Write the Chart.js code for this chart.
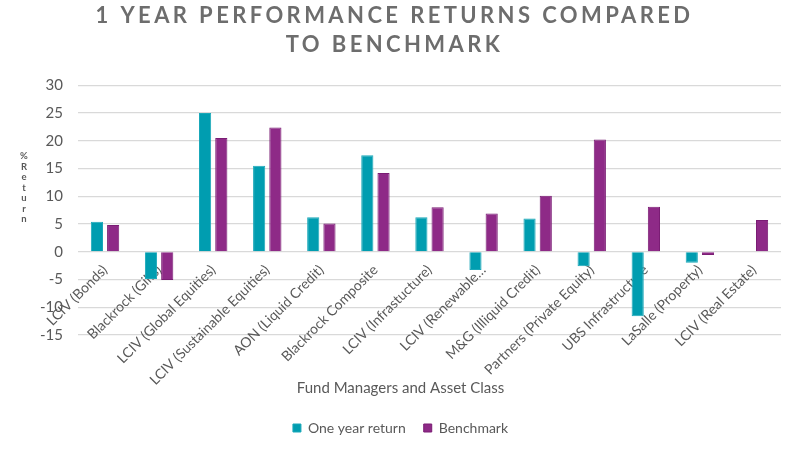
<!DOCTYPE html>
<html>
<head>
<meta charset="utf-8">
<script src="https://cdn.jsdelivr.net/npm/chart.js@4/dist/chart.umd.min.js"></script>
<style>
  html, body { margin: 0; padding: 0; background: #ffffff; }
  #wrap { width: 800px; height: 450px; position: relative; }
</style>
</head>
<body>
<div id="wrap"><canvas id="c"></canvas></div>
<script>
const categories = [
  'LCIV (Bonds)', 'Blackrock (Gilts)', 'LCIV (Global Equities)', 'LCIV (Sustainable Equities)',
  'AON (Liquid Credit)', 'Blackrock Composite', 'LCIV (Infrastucture)', 'LCIV (Renewable…',
  'M&G (Illiquid Credit)', 'Partners (Private Equity)', 'UBS Infrastructure', 'LaSalle (Property)',
  'LCIV (Real Estate)'
];
const oneYearReturn = [5.4, -4.9, 25.0, 15.5, 6.2, 17.4, 6.2, -3.3, 6.0, -2.6, -11.6, -2.0, 0];
const benchmark     = [4.8, -5.1, 20.5, 22.4, 5.1, 14.2, 8.0, 6.9, 10.1, 20.2, 8.1, -0.6, 5.7];
const yTicks = [-15, -10, -5, 0, 5, 10, 15, 20, 25, 30];
const seriesNames = ['One year return', 'Benchmark'];
const titleLines = ['1 YEAR PERFORMANCE RETURNS COMPARED', 'TO BENCHMARK'];
const xTitle = 'Fund Managers and Asset Class';
const yTitle = '% Return';

const GREY = '#595959';
const FONT = "Lato, 'Open Sans', sans-serif";

const spacedTitle = {
  id: 'spacedTitle',
  beforeDraw(chart) {
    const tb = chart.titleBlock;
    if (tb && !tb._wrapped) {
      const orig = tb.draw.bind(tb);
      tb.draw = function () {
        const c = chart.ctx;
        c.save();
        c.translate(-6, 0);
        c.letterSpacing = '3.4px';
        orig();
        c.restore();
      };
      tb._wrapped = true;
    }
  }
};

const stackedYTitle = {
  id: 'stackedYTitle',
  afterDraw(chart) {
    const ctx = chart.ctx;
    const chars = yTitle.replace(/\s/g, '').split('');
    ctx.save();
    ctx.font = "bold 9.5px " + FONT;
    ctx.fillStyle = GREY;
    ctx.textAlign = 'center';
    ctx.textBaseline = 'middle';
    const x = 24;
    let y = 156;
    for (const ch of chars) {
      ctx.fillText(ch, x, y);
      y += 10.5;
    }
    ctx.restore();
  }
};

new Chart(document.getElementById('c'), {
  type: 'bar',
  data: {
    labels: categories,
    datasets: [
      {
        label: seriesNames[0],
        data: oneYearReturn,
        backgroundColor: '#009DB0',
        borderColor: '#1aa8b9',
        borderWidth: 1,
        barPercentage: 0.75,
        categoryPercentage: 0.6
      },
      {
        label: seriesNames[1],
        data: benchmark,
        backgroundColor: '#8E2A87',
        borderColor: '#7a1d74',
        borderWidth: 1,
        barPercentage: 0.75,
        categoryPercentage: 0.6
      }
    ]
  },
  options: {
    responsive: true,
    maintainAspectRatio: false,
    animation: false,
    layout: { padding: { left: 20, right: 19, top: 0, bottom: 5 } },
    plugins: {
      title: {
        display: true,
        text: titleLines,
        color: '#6d6d6d',
        font: { family: FONT, size: 22, weight: 'bold', lineHeight: 1.3 },
        padding: { top: 2, bottom: 26 }
      },
      subtitle: {
        display: true,
        position: 'bottom',
        text: xTitle,
        color: GREY,
        font: { family: FONT, size: 15 },
        padding: { top: 44, bottom: 6 },
        weight: 1500
      },
      legend: {
        position: 'bottom',
        weight: 2000,
        labels: {
          color: GREY,
          font: { family: FONT, size: 14 },
          boxWidth: 8,
          boxHeight: 8,
          padding: 18
        }
      },
      tooltip: { enabled: false }
    },
    scales: {
      x: {
        position: { y: 0 },
        grid: { display: false, drawTicks: false },
        border: { display: false },
        ticks: {
          autoSkip: false,
          minRotation: 45,
          maxRotation: 45,
          padding: 10,
          color: GREY,
          font: { family: FONT, size: 14 }
        }
      },
      y: {
        min: -15,
        max: 30,
        afterBuildTicks(scale) { scale.ticks = yTicks.map(v => ({ value: v })); },
        afterFit(scale) { scale.width = 58; },
        grid: { color: '#d9d9d9', lineWidth: 1.2, drawTicks: false },
        border: { display: false },
        ticks: {
          padding: 15,
          color: GREY,
          font: { family: FONT, size: 15 }
        }
      }
    }
  },
  plugins: [spacedTitle, stackedYTitle]
});
</script>
</body>
</html>
